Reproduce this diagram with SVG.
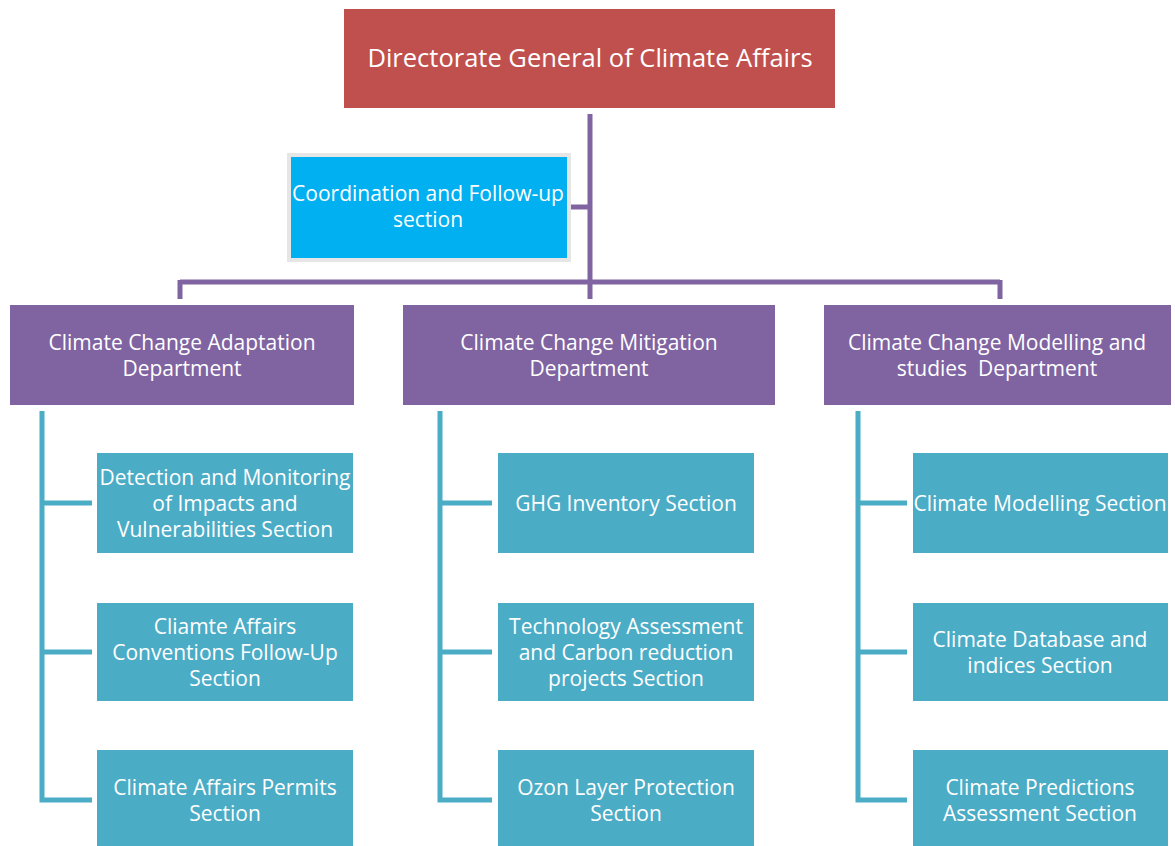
<svg xmlns="http://www.w3.org/2000/svg" width="1175" height="846" viewBox="0 0 1175 846">
<style>
text{font-family:"Open Sans","Noto Sans",sans-serif;fill:#ffffff;text-anchor:middle;dominant-baseline:central;white-space:pre}
.t{font-size:25.5px}
.d{font-size:21px}
.s{font-size:21px}
.top{fill:#C0504D}
.dept{fill:#8064A2}
.sec{fill:#4BACC6}
.pl{stroke:#8064A2;stroke-width:5;fill:none}
.cl{stroke:#4BACC6;stroke-width:5;fill:none}
</style>
<rect width="1175" height="846" fill="#ffffff"/>
<g id="connectors">
<path class="pl" d="M590 114V299M180 282H1000M180 280V299M1000 280V299M570 207H590"/>
<path class="cl" d="M42 411V800H92M42 503H92M42 652H92"/>
<path class="cl" d="M440 411V800H492M440 503H492M440 652H492"/>
<path class="cl" d="M858 411V800H907M858 503H907M858 652H907"/>
</g>
<g id="director">
<rect class="top" x="344" y="9" width="491" height="99"/>
<text class="t" x="590" y="57">Directorate General of Climate Affairs</text>
</g>
<g id="coordination">
<rect x="289" y="155" width="280" height="105" fill="#00B0F0" stroke="#E6E6E6" stroke-width="4"/>
<text class="s" x="428" y="193">Coordination and Follow-up</text>
<text class="s" x="428" y="219">section</text>
</g>
<g id="adaptation">
<rect class="dept" x="10" y="305" width="344" height="100"/>
<text class="d" x="182" y="342">Climate Change Adaptation</text>
<text class="d" x="182" y="368">Department</text>
</g>
<g id="mitigation">
<rect class="dept" x="403" y="305" width="372" height="100"/>
<text class="d" x="589" y="342">Climate Change Mitigation</text>
<text class="d" x="589" y="368">Department</text>
</g>
<g id="modelling">
<rect class="dept" x="824" y="305" width="347" height="100"/>
<text class="d" x="997" y="342">Climate Change Modelling and</text>
<text class="d" x="997" y="368" xml:space="preserve">studies  Department</text>
</g>
<g id="detection">
<rect class="sec" x="97" y="453" width="256" height="100"/>
<text class="s" x="225" y="477">Detection and Monitoring</text>
<text class="s" x="225" y="503">of Impacts and</text>
<text class="s" x="225" y="529">Vulnerabilities Section</text>
</g>
<g id="conventions">
<rect class="sec" x="97" y="603" width="256" height="98"/>
<text class="s" x="225" y="626">Cliamte Affairs</text>
<text class="s" x="225" y="652">Conventions Follow-Up</text>
<text class="s" x="225" y="678">Section</text>
</g>
<g id="permits">
<rect class="sec" x="97" y="750" width="256" height="96"/>
<text class="s" x="225" y="787">Climate Affairs Permits</text>
<text class="s" x="225" y="813">Section</text>
</g>
<g id="ghg">
<rect class="sec" x="498" y="453" width="256" height="100"/>
<text class="s" x="626" y="503">GHG Inventory Section</text>
</g>
<g id="technology">
<rect class="sec" x="498" y="603" width="256" height="98"/>
<text class="s" x="626" y="626">Technology Assessment</text>
<text class="s" x="626" y="652">and Carbon reduction</text>
<text class="s" x="626" y="678">projects Section</text>
</g>
<g id="ozone">
<rect class="sec" x="498" y="750" width="256" height="96"/>
<text class="s" x="626" y="787">Ozon Layer Protection</text>
<text class="s" x="626" y="813">Section</text>
</g>
<g id="climate-modelling">
<rect class="sec" x="913" y="453" width="255" height="100"/>
<text class="s" x="1040" y="503">Climate Modelling Section</text>
</g>
<g id="database">
<rect class="sec" x="913" y="603" width="255" height="98"/>
<text class="s" x="1040" y="639">Climate Database and</text>
<text class="s" x="1040" y="665">indices Section</text>
</g>
<g id="predictions">
<rect class="sec" x="913" y="750" width="255" height="96"/>
<text class="s" x="1040" y="787">Climate Predictions</text>
<text class="s" x="1040" y="813">Assessment Section</text>
</g>
</svg>
